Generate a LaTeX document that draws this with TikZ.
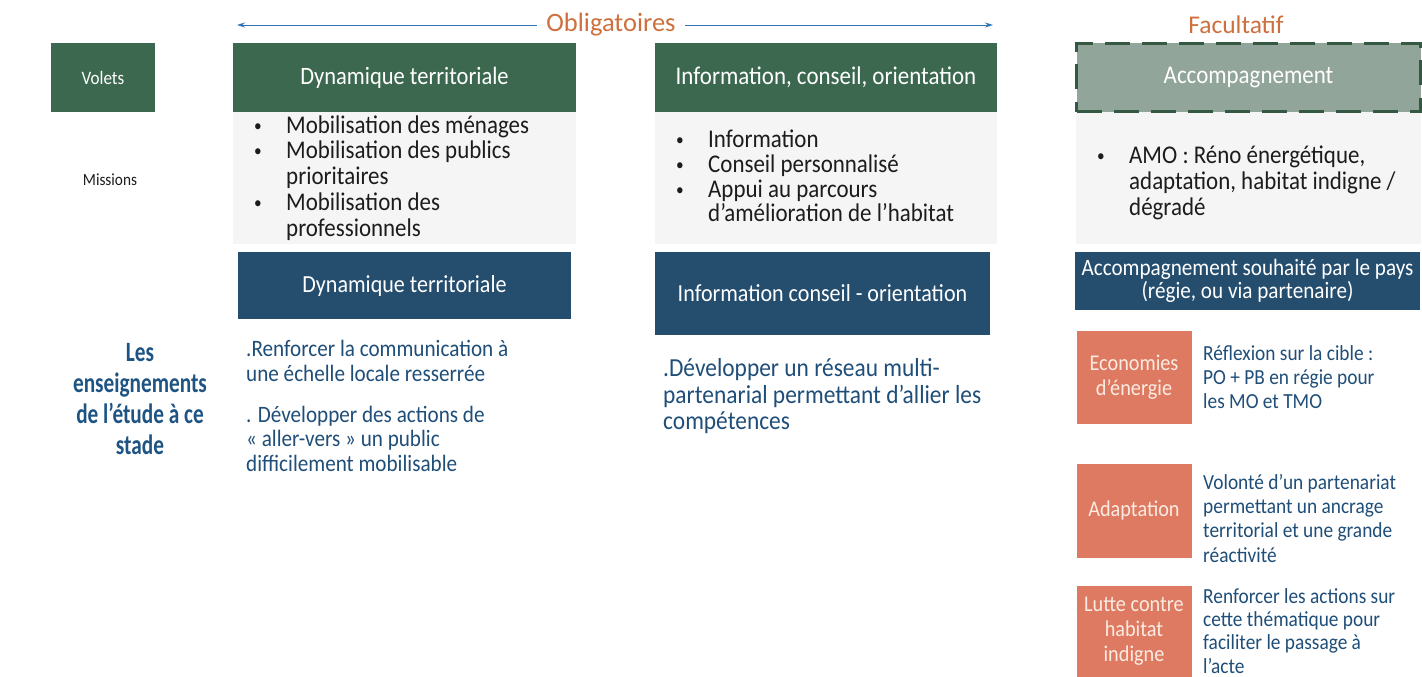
\documentclass[tikz,border=0pt]{standalone}
\usepackage{fontspec}
\setmainfont{Carlito}[FakeStretch=0.9]
\newfontfamily\headfont{Carlito}
\newfontfamily\titlefont{Carlito}[FakeStretch=0.76]
\usetikzlibrary{arrows.meta}
\definecolor{vgreen}{RGB}{59,104,78}
\definecolor{vblue}{RGB}{36,77,110}
\definecolor{accfill}{RGB}{146,165,154}
\definecolor{accline}{RGB}{52,88,66}
\definecolor{obox}{RGB}{223,122,98}
\definecolor{otext}{RGB}{250,236,226}
\definecolor{orangetxt}{RGB}{206,112,62}
\definecolor{arrowblue}{RGB}{46,117,182}
\definecolor{bluetxt}{RGB}{31,78,121}
\definecolor{titleblue}{RGB}{30,84,132}
\definecolor{darktxt}{RGB}{28,28,28}
\definecolor{missbg}{RGB}{245,245,245}
\newcommand{\fs}[2]{\fontsize{#1}{#2}\selectfont\lineskiplimit=-50pt\relax}
\newcommand{\bul}{\makebox[32pt][l]{\raisebox{2pt}{\fontsize{17}{17}\selectfont\textbullet}}}
\newcommand{\ind}{\hspace*{32pt}}
\tikzset{
  voletbox/.style={fill=vgreen, text=white, inner sep=0pt, minimum height=69pt},
  bluebox/.style={fill=vblue, text=white, inner sep=0pt, align=center},
  orangebox/.style={fill=obox, text=otext, inner sep=0pt, minimum width=115pt, align=center, font=\fs{22.5}{25}},
  listtext/.style={anchor=north west, inner sep=0pt, align=left, text=darktxt},
  bodytext/.style={anchor=north west, inner sep=0pt, align=left, text=bluetxt},
  headlabel/.style={text=orangetxt, font=\headfont\fs{26.5}{30}, inner sep=9pt},
  arrowline/.style={draw=arrowblue, line width=0.9pt, -{Stealth[length=8pt,width=5pt]}}
}
\begin{document}
\begin{tikzpicture}[x=1pt,y=-1pt]
\useasboundingbox (0,0) rectangle (1422,677);
\fill[white] (0,0) rectangle (1422,677);

% top labels and arrow
\node[headlabel] (oblig) at (611,25) {Obligatoires};
\coordinate (aL) at (237,25);
\coordinate (aR) at (993,25);
\draw[arrowline] (oblig.west) -- (aL);
\draw[arrowline] (oblig.east) -- (aR);
\node[headlabel, font=\headfont\fs{25.5}{30}] (facult) at (1236,25) {Facultatif};

% mission backgrounds
\fill[missbg] (233,112) rectangle (576,244);
\fill[missbg] (655,112) rectangle (997,244);
\fill[missbg] (1076,112) rectangle (1421,244);

% volets row
\node[voletbox, minimum width=104pt, font=\fs{19}{22}] (volets) at (103,77.5) {Volets};
\node[voletbox, minimum width=343pt, font=\fs{25}{28}] (v1) at (404.5,77.5) {Dynamique territoriale};
\node[voletbox, minimum width=342pt, font=\fs{25.5}{28}] (v2) at (826,77.5) {Information, conseil, orientation};
\node[fill=accfill, draw=accline, line width=2.6pt, dash pattern=on 25pt off 12pt, text=white,
      inner sep=0pt, minimum width=344pt, minimum height=68pt, font=\fs{25.5}{28}] (v3) at (1248.5,77.5) {Accompagnement};

% missions
\node[text=darktxt, font=\fs{17}{20}] (missions) at (110,180) {Missions};
\node[listtext, font=\fs{25.5}{25.75}] (m1) at (254,115) {\strut\bul Mobilisation des ménages\\ \bul Mobilisation des publics\\ \ind prioritaires\\ \bul Mobilisation des\\ \ind professionnels};
\node[listtext, font=\fs{25.5}{24.7}] (m2) at (676,130) {\strut\bul Information\\ \bul Conseil personnalisé\\ \bul Appui au parcours\\ \ind d’amélioration de l’habitat};
\node[listtext, font=\fs{25.5}{26}] (m3) at (1097,145) {\strut\bul AMO : Réno énergétique,\\ \ind adaptation, habitat indigne /\\ \ind dégradé};

% blue boxes
\node[bluebox, minimum width=333pt, minimum height=67pt, font=\fs{24.5}{28}] (b1) at (404.5,285.5) {Dynamique territoriale};
\node[bluebox, minimum width=335pt, minimum height=83pt, font=\fs{24.5}{28}] (b2) at (822.5,293.5) {Information conseil - orientation};
\node[bluebox, minimum width=345pt, minimum height=58pt, font=\fs{23.5}{23}] (b3) at (1247.5,281) {Accompagnement souhaité par le pays\\(régie, ou via partenaire)};

% left title
\node[text=titleblue, align=center, font=\titlefont\bfseries\fs{28}{31}] (title) at (140,399) {Les\\enseignements\\de l’étude à ce\\stade};

% conclusions columns 1 and 2
\node[bodytext, font=\fs{23.5}{24.7}] (c1a) at (246,339) {\strut.Renforcer la communication à\\une échelle locale resserrée};
\node[bodytext, font=\fs{23.5}{24.5}] (c1b) at (246,405) {\strut. Développer des actions de\\« aller-vers » un public\\difficilement mobilisable};
\node[bodytext, font=\fs{26}{26.5}] (c2) at (663,358) {\strut.Développer un réseau multi-\\partenarial permettant d’allier les\\compétences};

% orange boxes and texts
\node[orangebox, minimum height=93pt] (o1) at (1134,377.5) {Economies\\d’énergie};
\node[orangebox, minimum height=94pt] (o2) at (1134,510.5) {Adaptation};
\node[orangebox, minimum height=91pt] (o3) at (1134,631.5) {Lutte contre\\habitat\\indigne};
\node[bodytext, font=\fs{21.5}{24}] (t1) at (1203,343) {\strut Réflexion sur la cible :\\PO + PB en régie pour\\les MO et TMO};
\node[bodytext, font=\fs{21.5}{24.3}] (t2) at (1203,472) {\strut Volonté d’un partenariat\\permettant un ancrage\\territorial et une grande\\réactivité};
\node[bodytext, font=\fs{21.5}{23.2}] (t3) at (1203,587) {\strut Renforcer les actions sur\\cette thématique pour\\faciliter le passage à\\l’acte};
\end{tikzpicture}
\end{document}
